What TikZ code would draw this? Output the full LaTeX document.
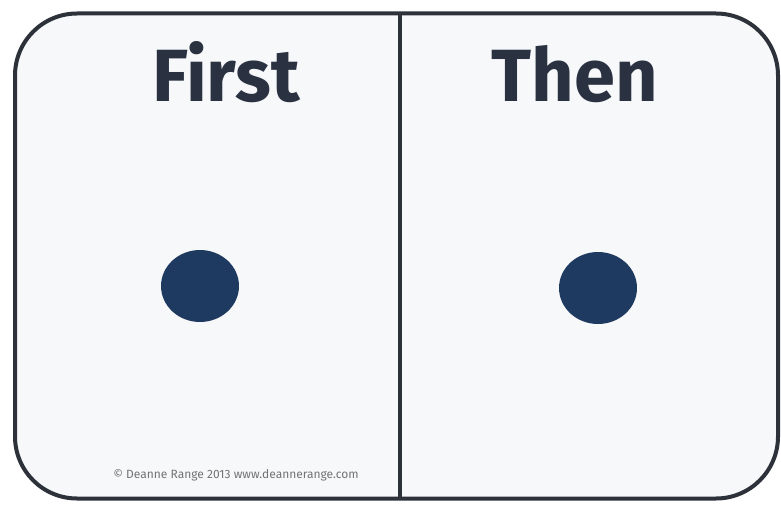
\documentclass[tikz,border=0pt]{standalone}
\usepackage{fontspec}
\setmainfont{Fira Sans}
\newfontfamily\titlefont{Fira Sans}
\definecolor{marco}{RGB}{44, 49, 58}
\definecolor{tinta}{RGB}{42, 50, 66}
\definecolor{azul}{RGB}{30, 58, 96}
\definecolor{fondo}{RGB}{247, 248, 250}
\definecolor{gris50}{gray}{.45}
\usetikzlibrary{positioning,shapes.geometric}

\begin{document}
\begin{tikzpicture}[
    x=1pt, y=-1pt,
    frame/.style={rectangle, draw=marco, line width=4pt, rounded corners=62pt,
      fill=fondo, minimum width=763pt, minimum height=485pt, inner sep=0pt},
    title/.style={anchor=base, text=tinta, inner sep=0pt,
      font=\titlefont\fontsize{74}{80}\selectfont\bfseries},
    token/.style={ellipse, fill=azul, minimum width=78pt, minimum height=72pt,
      inner sep=0pt},
    credit/.style={text=gris50, inner sep=0pt,
      font=\fontsize{12}{13}\selectfont}
  ]
    \useasboundingbox (0,0) rectangle (781,508);
    \fill[white] (0,0) rectangle (781,508);
    % board with two halves
    \node[frame] (board) at (396.5,256) {};
    \coordinate (top) at (400,13.5);
    \coordinate (bottom) at (400,499);
    \draw[marco, line width=4pt] (top) -- (bottom);
    % headings
    \node[title] (first) at (226,102) {First};
    \node[title] (then) at (575,102) {Then};
    % tokens
    \node[token] (firstdot) at (200,286) {};
    \node[token] (thendot) at (598,288) {};
    \node[credit] (copy) at (236,475) {© Deanne Range 2013 www.deannerange.com};
\end{tikzpicture}
\end{document}
